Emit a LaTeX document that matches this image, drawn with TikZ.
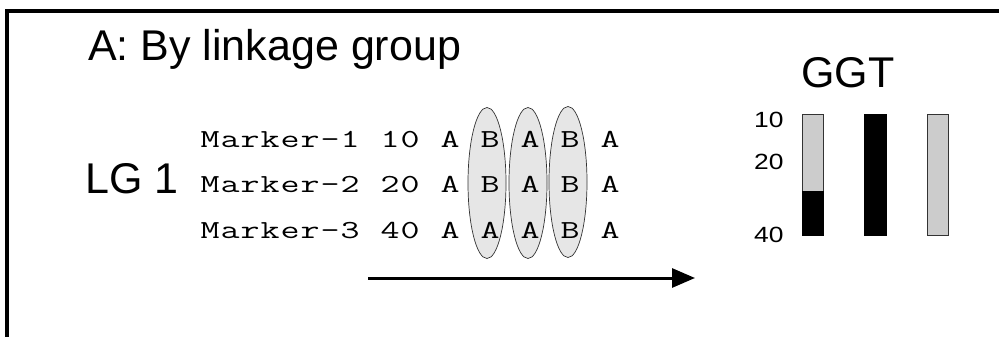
\documentclass[tikz,border=0pt]{standalone}
\usepackage{fontspec}
\usepackage{graphicx}
\setmainfont{Liberation Sans}
\usetikzlibrary{shapes.geometric,arrows.meta}

% fixed pitch typesetting: each character, widened, sits in a 20pt wide box
\def\spaced#1{\spacedloop#1\spacedstop}
\def\spacedloop#1{\ifx#1\spacedstop\else\makebox[20pt]{\scalebox{1.42}[1]{#1}}\expandafter\spacedloop\fi}

\definecolor{bargrey}{HTML}{CCCCCC}
\definecolor{ovalgrey}{HTML}{E6E6E6}
\definecolor{edgegrey}{HTML}{333333}

\tikzset{
  big/.style={inner sep=0pt, anchor=base west, font=\fontsize{43}{45}\selectfont},
  row/.style={inner sep=0pt, anchor=base west, font=\ttfamily\fontsize{26}{28}\selectfont},
  tick/.style={inner sep=0pt, anchor=base west, font=\fontsize{22}{24}\selectfont},
  oval/.style={ellipse, draw=edgegrey, line width=0.7pt, fill=ovalgrey,
               minimum width=38pt, minimum height=151pt, inner sep=0pt},
  greybar/.style={draw=edgegrey, line width=0.8pt, fill=bargrey},
  blackbar/.style={draw=black, line width=0.8pt, fill=black},
}

\begin{document}
\begin{tikzpicture}[x=1pt, y=-1pt]
\useasboundingbox (0,0) rectangle (999,337);

% frame (open at the right and bottom)
\draw[line width=4pt, line join=miter] (7,345) -- (7,11) -- (1010,11);

% headings
\node[big] (title) at (88,60) {A: By linkage group};
\node[big] (lg) at (85,193) {LG 1};
\node[big] (ggt) at (801,88) {GGT};

% selected columns
\node[oval] (c1) at (487,183) {};
\node[oval] (c2) at (528,183) {};
\node[oval] (c3) at (568,182) {};

% marker rows
\node[row] (r1) at (200,147) {\spaced{Marker-1~10~A~B~A~B~A}};
\node[row] (r2) at (200,192) {\spaced{Marker-2~20~A~B~A~B~A}};
\node[row] (r3) at (200,238) {\spaced{Marker-3~40~A~A~A~B~A}};

% direction arrow
\coordinate (as) at (368,278);
\coordinate (ae) at (695,278);
\draw[line width=3pt, -{Triangle[length=23pt,width=19pt]}] (as) -- (ae);

% position scale
\node[tick] (t10) at (754,128) {\scalebox{1.2}[1]{10}};
\node[tick] (t20) at (754,169) {\scalebox{1.2}[1]{20}};
\node[tick] (t40) at (754,242) {\scalebox{1.2}[1]{40}};

% genotype bars
\draw[greybar] (802,114) rectangle (823,191);
\draw[blackbar] (802,191) rectangle (823,235);
\draw[blackbar] (864,114) rectangle (886,235);
\draw[greybar] (927,114) rectangle (948,235);
\end{tikzpicture}
\end{document}
